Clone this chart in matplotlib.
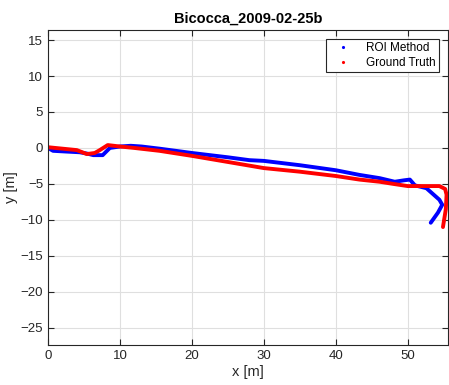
import matplotlib.pyplot as plt
from matplotlib.lines import Line2D

plt.rcParams['font.family'] = ['Liberation Sans', 'DejaVu Sans']

# trajectory estimated by the ROI method
roi_x = [0, 0.7, 2.5, 4.4, 5.5, 6.3, 7.6, 8.6, 10, 11.5, 13, 15.5, 20, 25, 28, 30,
         35, 40, 43.3, 46.1, 48.2, 49.5, 50.3, 51, 52.6, 54.4, 54.8, 54.2, 53.2]
roi_y = [0, -0.4, -0.5, -0.6, -0.8, -1.0, -1.0, 0.0, 0.2, 0.3, 0.2, -0.1, -0.7, -1.3,
         -1.7, -1.8, -2.4, -3.1, -3.75, -4.2, -4.7, -4.5, -4.4, -5.2, -5.6, -7.2, -7.9,
         -9.0, -10.4]

# ground truth trajectory
gt_x = [0, 2, 4, 5.4, 6.5, 7.2, 8.3, 10, 12, 15.5, 20, 25.3, 30, 35, 40, 43.3, 46.1,
        48, 50, 52, 54.4, 55.2, 55.4, 55.3, 54.9]
gt_y = [0.1, -0.1, -0.3, -0.85, -0.7, -0.3, 0.4, 0.2, 0.0, -0.4, -1.1, -2.0, -2.8,
        -3.3, -3.9, -4.4, -4.7, -5.0, -5.3, -5.3, -5.3, -5.7, -6.5, -8.5, -11.0]

fig = plt.figure(figsize=(4.49, 3.85), dpi=100)
ax = fig.add_axes([48 / 449, 40 / 385, 400 / 449, 315 / 385])

ax.plot(roi_x, roi_y, '-', color='#0000ff', lw=2.8, solid_capstyle='round')
ax.plot(gt_x, gt_y, '-', color='#ff0000', lw=2.8, solid_capstyle='round')

ax.set_xlim(0, 55.6)
ax.set_ylim(-27.4, 16.4)
ax.set_xticks([0, 10, 20, 30, 40, 50])
ax.set_yticks([-25, -20, -15, -10, -5, 0, 5, 10, 15])

ax.grid(True, color='#dfdfdf', lw=0.8)
ax.set_axisbelow(True)
ax.tick_params(direction='in', top=True, right=True, labelsize=9.5,
               colors='#262626', length=4)
for s in ax.spines.values():
    s.set_color('#262626')
    s.set_linewidth(0.8)

ax.set_xlabel('x [m]', fontsize=10.5, color='#262626', labelpad=2)
ax.set_ylabel('y [m]', fontsize=10.5, color='#262626', labelpad=2)
ax.set_title('Bicocca_2009-02-25b', fontsize=10.5, fontweight='bold', pad=5)

handles = [Line2D([], [], ls='none', marker='.', ms=2.5, color='#0000ff'),
           Line2D([], [], ls='none', marker='.', ms=2.5, color='#ff0000')]
leg = ax.legend(handles, ['ROI Method', 'Ground Truth'], loc='upper right',
                fontsize=8.5, frameon=True, fancybox=False, edgecolor='#262626',
                borderpad=0.3, handlelength=2.3, handletextpad=0.8,
                borderaxespad=0.75, labelspacing=0.2, framealpha=1)
leg.get_frame().set_linewidth(0.8)

fig.savefig('out.png', dpi=100)
